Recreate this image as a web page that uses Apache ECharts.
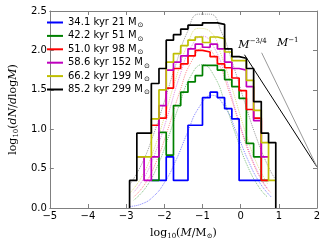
<!DOCTYPE html>
<html><head><meta charset="utf-8">
<script src="https://cdn.jsdelivr.net/npm/echarts@6/dist/echarts.min.js"></script>
<style>html,body{margin:0;padding:0;background:#fff}#c{width:327px;height:245px}</style>
</head><body><div id="c"></div>
<script>
// bin edges (log10 M) shared by all histograms
const edges = [-2.91,-2.72,-2.53,-2.34,-2.14,-1.95,-1.76,-1.57,-1.38,-1.19,-1.00,-0.80,-0.61,-0.42,-0.23,-0.04,0.15,0.34,0.54,0.73,0.92];
const seriesNames = ['34.1 kyr 21 M','42.2 kyr 51 M','51.0 kyr 98 M','58.6 kyr 152 M','66.2 kyr 199 M','85.2 kyr 299 M'];
const colors = ['#0000ff','#008000','#ff0000','#bf00bf','#bfbf00','#000000'];
// histogram values per bin (log10 dN/dlogM), null = empty
const blueVals    = [null,null,null,0.35,0.35,0.65,0.35,0.35,1.05,1.05,1.40,1.47,1.40,1.26,1.13,0.35,0.35,0.35,null,null];
const greenVals   = [null,null,null,0.35,0.96,0.67,1.30,1.47,1.60,1.68,1.81,1.81,1.75,1.63,1.54,1.39,0.82,0.65,0.35,null];
const redVals     = [null,null,null,1.05,1.14,1.52,1.77,1.83,1.93,2.00,1.98,1.92,1.83,1.78,1.65,1.49,1.25,1.14,0.35,null];
const magentaVals = [null,0.65,0.35,0.65,1.30,1.75,1.85,1.93,2.02,2.08,2.04,2.08,2.02,1.85,1.77,1.75,1.54,1.11,0.65,null];
const yellowVals  = [null,0.65,0.65,1.13,1.50,1.85,1.96,2.06,2.13,2.17,2.10,2.17,2.15,1.98,1.87,1.87,1.62,1.24,0.83,0.35];
const blackVals   = [0.35,0.95,0.95,1.58,1.77,2.13,2.20,2.27,2.32,2.32,2.35,2.35,2.33,2.02,1.92,1.90,1.77,1.35,0.95,0.83];
// dotted fitted curves
const fitBlueX = [-2.9,-2.6,-2.3,-2.0,-1.7,-1.4,-1.1,-0.75,-0.4,-0.1,0.2,0.5,0.8];
const fitBlueY = [0.02,0.05,0.14,0.32,0.60,0.95,1.27,1.43,1.27,0.95,0.60,0.32,0.14];
const fitGreenX = [-2.8,-2.5,-2.2,-1.9,-1.6,-1.3,-1.0,-0.7,-0.4,-0.1,0.2,0.5,0.7];
const fitGreenY = [0.10,0.25,0.51,0.89,1.32,1.68,1.82,1.68,1.32,0.89,0.51,0.25,0.14];
const fitRedX = [-2.8,-2.5,-2.2,-1.9,-1.6,-1.3,-0.95,-0.6,-0.3,0.0,0.3,0.6,0.8];
const fitRedY = [0.14,0.31,0.60,1.01,1.47,1.85,2.04,1.85,1.47,1.01,0.60,0.31,0.19];
const fitMagentaX = [-2.8,-2.5,-2.2,-1.9,-1.6,-1.3,-1.0,-0.7,-0.4,-0.1,0.2,0.5,0.7];
const fitMagentaY = [0.20,0.41,0.75,1.19,1.67,2.04,2.18,2.04,1.67,1.19,0.75,0.41,0.25];
const fitYellowX = [-2.9,-2.6,-2.3,-2.0,-1.7,-1.4,-1.1,-0.8,-0.5,-0.2,0.1,0.4,0.7];
const fitYellowY = [0.19,0.39,0.71,1.15,1.64,2.06,2.28,2.24,1.93,1.48,1.00,0.59,0.31];
const fitBlackX = [-2.9,-2.6,-2.3,-2.0,-1.7,-1.4,-1.1,-0.8,-0.5,-0.2,0.1,0.4,0.7,0.9];
const fitBlackY = [0.30,0.55,0.91,1.35,1.82,2.23,2.46,2.46,2.23,1.82,1.35,0.91,0.55,0.37];
// power-law guide lines
const pl34X = [0.10, 2.0], pl34Y = [1.945, 0.52];
const pl1X = [0.55, 2.0],  pl1Y = [1.97, 0.52];
const pl34Label = [-0.06, 1.98], pl1Label = [0.95, 2.0];

const histVals = [blueVals, greenVals, redVals, magentaVals, yellowVals, blackVals];
const fits = [[fitBlueX,fitBlueY],[fitGreenX,fitGreenY],[fitRedX,fitRedY],[fitMagentaX,fitMagentaY],[fitYellowX,fitYellowY],[fitBlackX,fitBlackY]];
const fitColors = ['rgba(0,0,255,0.5)','rgba(0,128,0,0.5)','rgba(255,0,0,0.45)','rgba(191,0,191,0.45)','rgba(191,191,0,0.5)','rgba(110,110,110,0.7)'];

function stepPoints(vals, toZero){
  let i0 = vals.findIndex(v => v != null);
  let i1 = vals.length - 1; while (vals[i1] == null) i1--;
  const pts = [];
  if (toZero) pts.push([edges[i0], 0]);
  for (let i = i0; i <= i1; i++) pts.push([edges[i], vals[i]]);
  pts.push([edges[i1+1], vals[i1]]);
  if (toZero) pts.push([edges[i1+1], 0]);
  return pts;
}
const zip = (a,b) => a.map((x,i)=>[x,b[i]]);

const series = [];
fits.forEach((f,k) => series.push({type:'line', data: zip(f[0],f[1]), smooth:0.5, showSymbol:false, silent:true, z:1,
  lineStyle:{color:fitColors[k], width:1, type:'dotted'}}));
histVals.forEach((v,k) => series.push({name: seriesNames[k], type:'line', step:'end', data: stepPoints(v, k===5), showSymbol:false,
  color: colors[k], z: 3+k, lineStyle:{color:colors[k], width:1.7}}));
series.push({type:'line', data: zip(pl34X,pl34Y), showSymbol:false, z:2, lineStyle:{color:'#000', width:1}});
series.push({type:'line', data: zip(pl1X,pl1Y), showSymbol:false, z:2, lineStyle:{color:'#999', width:1}});

const axisCol = '#808080';
const tick = {inside:true, length:4, lineStyle:{color:axisCol}};
const serif = 'DejaVu Serif';
const chart = echarts.init(document.getElementById('c'), null, {renderer:'canvas'});
chart.setOption({
  animation:false,
  grid:{left:41, right:10, top:11, bottom:37, containLabel:false},
  legend:{data: seriesNames, orient:'vertical', left:42, top:11, itemWidth:16, itemHeight:2, itemGap:0.4, icon:'rect',
    formatter: n => n + '{sub|\u2299}',
    textStyle:{fontFamily:'DejaVu Sans', fontSize:10, color:'#000', lineHeight:12,
      rich:{sub:{fontFamily:'DejaVu Sans', fontSize:7, lineHeight:12, padding:[6,0,0,1]}}}},
  xAxis:[{type:'value', min:-5, max:2, interval:1, splitLine:{show:false},
    axisLine:{onZero:false, lineStyle:{color:axisCol, width:1}}, axisTick:tick,
    axisLabel:{color:'#000', fontFamily:'DejaVu Sans', fontSize:10, margin:3, formatter: v => String(v).replace('-','\u2212')},
    name:'{r|log}{s|10}{r|(}{i|M}{r|/M}{s|\u2299}{r|)}', nameLocation:'middle', nameGap:19,
    nameTextStyle:{rich:{r:{fontFamily:serif,fontSize:11,color:'#000'}, i:{fontFamily:serif,fontStyle:'italic',fontSize:11,color:'#000'},
      s:{fontFamily:serif,fontSize:7,color:'#000',padding:[6,0,0,0]}}}},
    {type:'value', position:'top', min:-5, max:2, interval:1, splitLine:{show:false}, axisLabel:{show:false},
    axisLine:{onZero:false, lineStyle:{color:axisCol, width:1}}, axisTick:tick}],
  yAxis:[{type:'value', min:0, max:2.5, interval:0.5, splitLine:{show:false},
    axisLine:{show:true, onZero:false, lineStyle:{color:axisCol, width:1}}, axisTick:{show:true, ...tick},
    axisLabel:{color:'#000', fontFamily:'DejaVu Sans', fontSize:10, margin:3, formatter: v => v.toFixed(1)},
    name:'{r|log}{s|10}{r|(}{i|dN}{r|/}{i|d}{r|log}{i|M}{r|)}', nameLocation:'middle', nameGap:26, nameRotate:90,
    nameTextStyle:{rich:{r:{fontFamily:serif,fontSize:11,color:'#000'}, i:{fontFamily:serif,fontStyle:'italic',fontSize:11,color:'#000'},
      s:{fontFamily:serif,fontSize:7,color:'#000',padding:[6,0,0,0]}}}},
    {type:'value', position:'right', min:0, max:2.5, interval:0.5, splitLine:{show:false}, axisLabel:{show:false},
    axisLine:{show:true, onZero:false, lineStyle:{color:axisCol, width:1}}, axisTick:{show:true, ...tick}}],
  series
});
const p34 = chart.convertToPixel({xAxisIndex:0, yAxisIndex:0}, pl34Label);
const p1 = chart.convertToPixel({xAxisIndex:0, yAxisIndex:0}, pl1Label);
const richLab = {m:{fontFamily:serif, fontStyle:'italic', fontSize:11, fill:'#000'}, s:{fontFamily:serif, fontSize:7, fill:'#000', padding:[0,0,7,0]}};
chart.setOption({graphic:[
  {type:'text', x:p34[0], y:p34[1], style:{text:'{m|M}{s|\u22123/4}', rich:richLab, verticalAlign:'bottom'}, z:10},
  {type:'text', x:p1[0], y:p1[1], style:{text:'{m|M}{s|\u22121}', rich:richLab, verticalAlign:'bottom'}, z:10}
]});
</script></body></html>
